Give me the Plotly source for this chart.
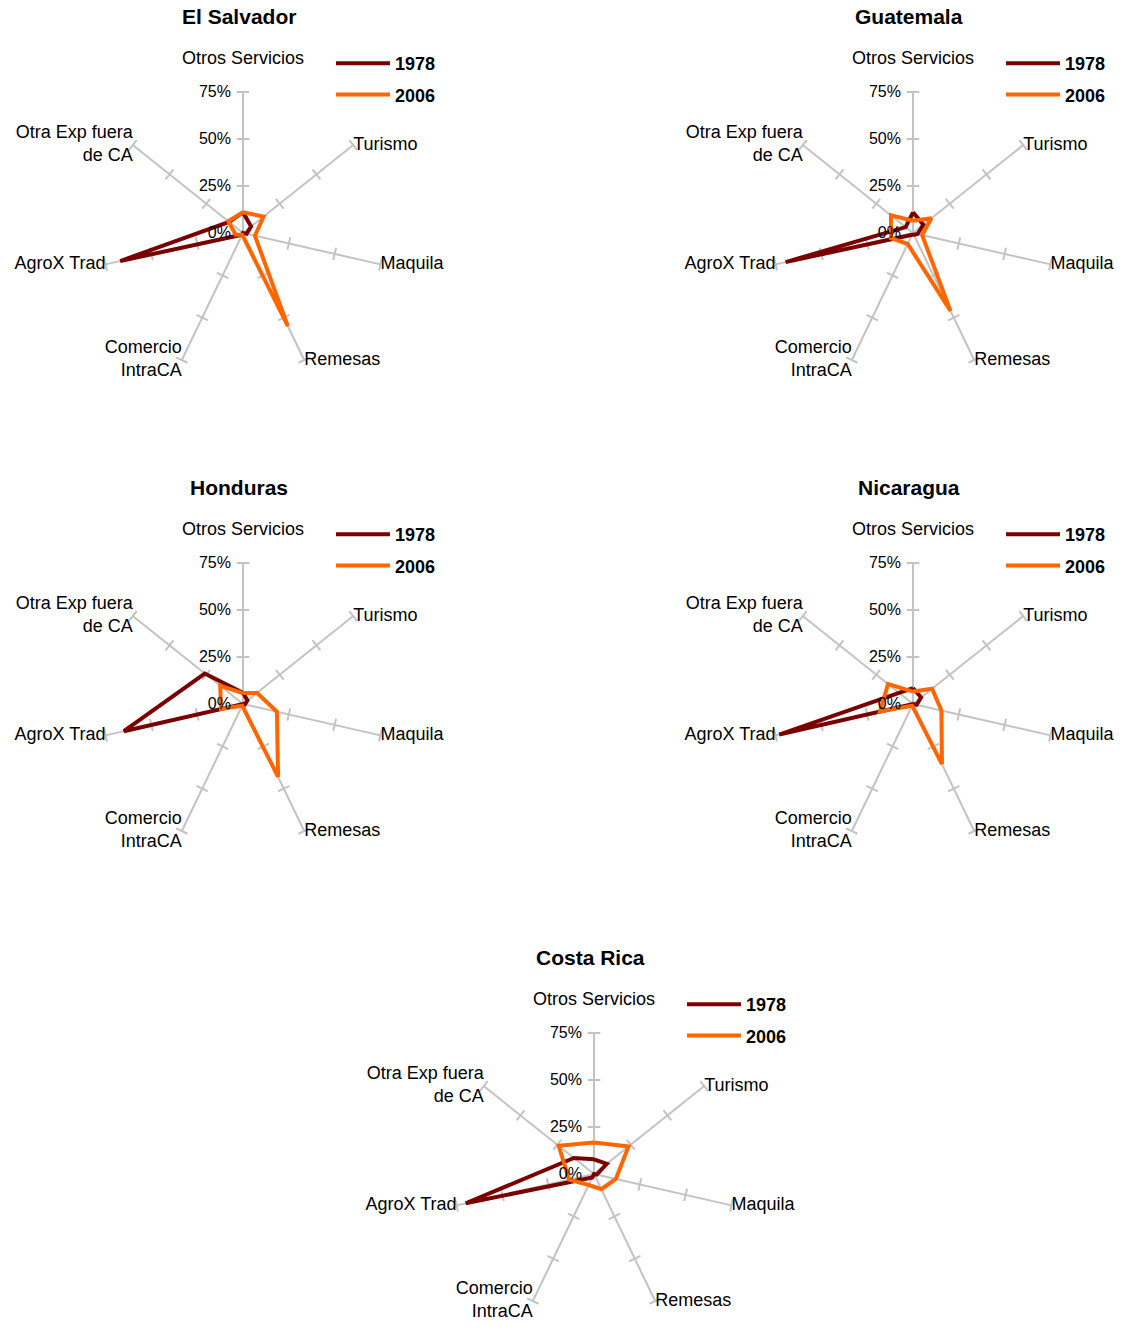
import plotly.graph_objects as go

categories = ["Otros Servicios", "Turismo", "Maquila", "Remesas",
              "Comercio<br>IntraCA", "AgroX Trad", "Otra Exp fuera<br>de CA"]
countries = ["El Salvador", "Guatemala", "Honduras", "Nicaragua", "Costa Rica"]

es_1978 = [11, 5.5, 2, 0, 1, 67, 9.5]
es_2006 = [11, 14, 6.5, 55, 1, 4, 10]
gt_1978 = [11, 7, 2.5, 1, 1, 69.5, 5]
gt_2006 = [6.5, 12.5, 5, 46, 6.5, 12, 15]
hn_1978 = [6, 3, 1, 0, 0, 65, 26]
hn_2006 = [5.8, 9.5, 18.5, 43, 1, 12, 15.5]
ni_1978 = [8.5, 5.5, 2, 0, 0, 73, 9.5]
ni_2006 = [6.6, 13, 15.5, 35.5, 1, 18, 17]
cr_1978 = [7.8, 8.7, 1.5, 0, 2, 70, 13.7]
cr_2006 = [16.8, 23.5, 11.9, 9, 6.5, 13.6, 24]

series_1978 = [es_1978, gt_1978, hn_1978, ni_1978, cr_1978]
series_2006 = [es_2006, gt_2006, hn_2006, ni_2006, cr_2006]
radial_ticks = [0, 25, 50, 75]
radial_tick_labels = ["0%", "25%", "50%", "75%"]

W, H = 1123, 1333
centers = [(243, 233), (913, 233), (243, 704), (913, 704), (594, 1174)]
R = 141

RED = "#7a0000"
ORANGE = "#ff6600"
GRID = "#c3c3c3"
FONT = "Liberation Sans, Arial, sans-serif"

# label placement around each spoke end
label_pos = ["top center", "middle right", "middle right", "middle right",
             "middle left", "middle left", "middle left"]
# the top label sits one line higher, clear of the 75% tick label
label_text = [categories[0] + "<br> "] + categories[1:]

fig = go.Figure()
layout = {}
annotations = []

n = len(categories)
for i, (name, (cx, cy)) in enumerate(zip(countries, centers)):
    pid = "polar" if i == 0 else f"polar{i+1}"
    lid = "legend" if i == 0 else f"legend{i+1}"
    sub = pid

    # tick marks on every spoke
    tr, tt, ta = [], [], []
    for k, c in enumerate(categories):
        for v in radial_ticks[1:]:
            tr.append(v)
            tt.append(c)
            ta.append(360.0 * k / n)
    fig.add_trace(go.Scatterpolar(
        r=tr, theta=tt, mode="markers", subplot=sub,
        marker=dict(symbol="line-ew", size=9, angle=ta,
                    line=dict(color=GRID, width=2)),
        hoverinfo="skip", showlegend=False, cliponaxis=False))

    # category labels at the spoke ends
    fig.add_trace(go.Scatterpolar(
        r=[radial_ticks[-1]] * n, theta=categories, mode="text", subplot=sub,
        text=label_text, textposition=label_pos,
        textfont=dict(size=18, color="#000", family=FONT),
        hoverinfo="skip", showlegend=False, cliponaxis=False))

    for vals, year, col in [(series_1978[i], "1978", RED), (series_2006[i], "2006", ORANGE)]:
        fig.add_trace(go.Scatterpolar(
            r=vals + vals[:1], theta=categories + categories[:1],
            mode="lines", subplot=sub, name=f"<b>{year}</b>",
            line=dict(color=col, width=4), legend=lid,
            legendgroup=f"{i}-{year}", cliponaxis=False))

    layout[pid] = dict(
        domain=dict(x=[(cx - R) / W, (cx + R) / W],
                    y=[1 - (cy + R) / H, 1 - (cy - R) / H]),
        bgcolor="rgba(0,0,0,0)",
        angularaxis=dict(direction="clockwise", rotation=90,
                         showline=False, showgrid=True, gridcolor=GRID,
                         gridwidth=2, ticks="", showticklabels=False),
        radialaxis=dict(range=[0, 75], tickmode="array", tickvals=radial_ticks,
                        ticktext=radial_tick_labels,
                        showgrid=False, showline=False, ticks="outside",
                        ticklen=6, tickcolor="rgba(0,0,0,0)", angle=90,
                        tickangle=90, side="counterclockwise",
                        tickfont=dict(size=16, color="#000", family=FONT)),
    )
    layout[lid] = dict(x=(cx + 88) / W, y=1 - (cy - 188) / H,
                       xanchor="left", yanchor="top",
                       bgcolor="rgba(0,0,0,0)", traceorder="grouped",
                       tracegroupgap=5, itemwidth=54,
                       font=dict(size=18, color="#000", family=FONT))
    annotations.append(dict(text=f"<b>{name}</b>", x=(cx - 4) / W,
                            y=1 - (cy - 217) / H,
                            xref="paper", yref="paper", showarrow=False,
                            xanchor="center", yanchor="middle",
                            font=dict(size=21, color="#000", family=FONT)))

fig.update_layout(**layout)
fig.update_layout(width=W, height=H, margin=dict(l=0, r=0, t=0, b=0),
                  paper_bgcolor="white", plot_bgcolor="white",
                  annotations=annotations, font=dict(family=FONT))
fig.write_html("out.html")
